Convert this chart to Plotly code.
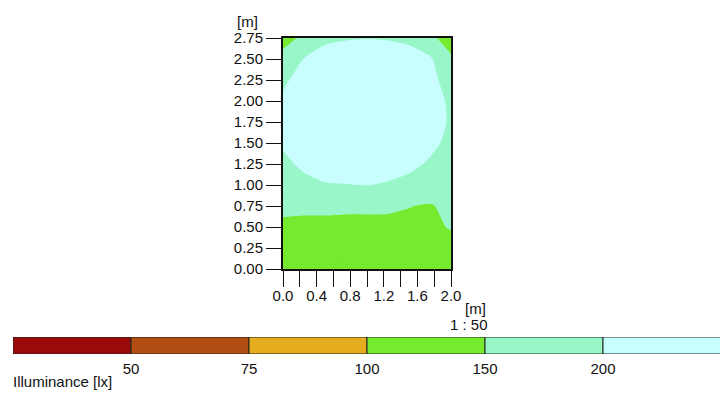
import plotly.graph_objects as go

# ---- data ----
x_m = [0.0, 0.25, 0.5, 0.75, 1.0, 1.25, 1.5, 1.75, 2.0]
y_m = [0.0, 0.25, 0.5, 0.75, 1.0, 1.25, 1.5, 1.75, 2.0, 2.25, 2.5, 2.75]
# illuminance per x column (bottom -> top), lux
col_0_00 = [115, 128, 143, 158, 175, 192, 205, 210, 205, 195, 175, 122]
col_0_25 = [118, 130, 144, 155, 190, 207, 218, 222, 220, 212, 201, 165]
col_0_50 = [120, 132, 144, 155, 198, 215, 225, 230, 230, 225, 215, 193]
col_0_75 = [121, 133, 144, 154, 199, 220, 232, 238, 238, 232, 222, 197]
col_1_00 = [122, 133, 144, 154, 201, 222, 235, 240, 240, 235, 225, 199]
col_1_25 = [123, 134, 145, 153, 196, 218, 232, 238, 238, 232, 222, 197]
col_1_50 = [122, 132, 142, 151, 188, 210, 226, 232, 232, 226, 216, 192]
col_1_75 = [121, 131, 141, 147, 175, 195, 210, 215, 215, 210, 206, 165]
col_2_00 = [120, 135, 153, 160, 178, 185, 190, 196, 194, 185, 160, 120]

x_ticks = [0.0, 0.2, 0.4, 0.6, 0.8, 1.0, 1.2, 1.4, 1.6, 1.8, 2.0]
x_labels = ["0.0", "", "0.4", "", "0.8", "", "1.2", "", "1.6", "", "2.0"]
y_ticks = [0.0, 0.25, 0.5, 0.75, 1.0, 1.25, 1.5, 1.75, 2.0, 2.25, 2.5, 2.75]

legend_levels = ["50", "75", "100", "150", "200"]
legend_colors = ["#9A0A0A", "#B24E14", "#E4AC1E", "#76EA2E", "#98F6C8", "#C8FEFE"]

# ---- build ----
cols = [col_0_00, col_0_25, col_0_50, col_0_75, col_1_00, col_1_25, col_1_50, col_1_75, col_2_00]
z = [[c[j] for c in cols] for j in range(len(y_m))]

# contour levels 50..200 step 25 -> 8 bands, colour sampled at band midpoints (k/7)
band_colors = [legend_colors[0], legend_colors[1], legend_colors[2], legend_colors[3],
               legend_colors[3], legend_colors[4], legend_colors[4], legend_colors[5]]
cscale = [[k / 7, c] for k, c in enumerate(band_colors)]

W, H = 728, 404
OFF = 8  # page body margin


def px(x):
    return (x - OFF) / W


def py(y):
    return (H - (y - OFF)) / H


FONT = "Liberation Sans, Arial, sans-serif"

fig = go.Figure()
fig.add_trace(go.Contour(
    x=x_m, y=y_m, z=z,
    autocontour=False,
    contours=dict(start=50, end=200, size=25, coloring="fill", showlines=False),
    line=dict(width=0, smoothing=0.6),
    colorscale=cscale, showscale=False, hoverinfo="skip",
    xaxis="x", yaxis="y",
))

n = len(legend_colors)
fig.add_trace(go.Bar(
    x=[1] * n, base=list(range(n)), y=[0] * n, orientation="h",
    marker=dict(color=legend_colors, line=dict(color="#222", width=1)),
    width=1, xaxis="x2", yaxis="y2", hoverinfo="skip", showlegend=False,
))

fig.update_layout(
    template="none",
    width=W, height=H,
    margin=dict(l=0, r=0, t=0, b=0, autoexpand=False),
    paper_bgcolor="white", plot_bgcolor="white",
    font=dict(family=FONT, size=15, color="#111"),
    showlegend=False,
    xaxis=dict(
        domain=[px(283), px(451)], range=[0, 2.0], automargin=False,
        tickvals=x_ticks, ticktext=x_labels,
        ticks="outside", ticklen=16, tickwidth=1, tickcolor="#111",
        ticklabelstandoff=-4,
        showline=True, linecolor="#111", linewidth=2, mirror=True,
        showgrid=False, zeroline=False, anchor="y",
    ),
    yaxis=dict(
        domain=[py(269), py(38)], range=[0, 2.75], automargin=False,
        tickvals=y_ticks, tickformat=".2f",
        ticks="outside", ticklen=15, tickwidth=1, tickcolor="#111",
        showline=True, linecolor="#111", linewidth=2, mirror=True,
        showgrid=False, zeroline=False, anchor="x",
    ),
    xaxis2=dict(
        domain=[px(13), px(721)], range=[0, n], automargin=False,
        tickvals=list(range(1, n)), ticktext=legend_levels,
        ticks="outside", ticklen=1, tickcolor="rgba(0,0,0,0)",
        showline=False, showgrid=False, zeroline=False, anchor="y2",
    ),
    yaxis2=dict(
        domain=[py(354), py(337)], range=[-0.5, 0.5], automargin=False,
        showticklabels=False, showgrid=False, zeroline=False, showline=False,
        anchor="x2",
    ),
    annotations=[
        dict(text="[m]", x=px(247), y=py(21), xref="paper", yref="paper",
             showarrow=False, xanchor="center", yanchor="middle"),
        dict(text="[m]", x=px(488), y=py(308), xref="paper", yref="paper",
             showarrow=False, xanchor="right", yanchor="middle"),
        dict(text="1 : 50", x=px(490), y=py(324), xref="paper", yref="paper",
             showarrow=False, xanchor="right", yanchor="middle"),
        dict(text="Illuminance [lx]", x=px(11), y=py(381), xref="paper", yref="paper",
             showarrow=False, xanchor="left", yanchor="middle"),
    ],
)

fig.write_html("out.html")
